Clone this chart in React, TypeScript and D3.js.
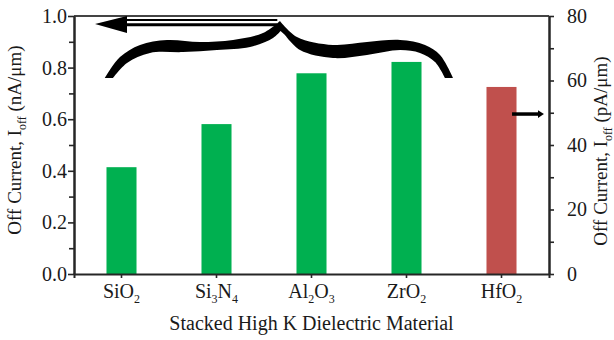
import React, { useRef, useEffect } from "react";
import * as d3 from "d3";

// categories, with label pieces alternating normal / subscript text
const materials = ["SiO2", "Si3N4", "Al2O3", "ZrO2", "HfO2"];
const materialLabels = [
  ["SiO", "2"],
  ["Si", "3", "N", "4"],
  ["Al", "2", "O", "3"],
  ["ZrO", "2"],
  ["HfO", "2"],
];

// off current read on the left axis (nA/um); HfO2 is read on the right axis (pA/um)
const offCurrentNA = [0.414, 0.581, 0.778, 0.822, null];
const offCurrentPA = [null, null, null, null, 58.0];

const leftTicks = [0, 0.2, 0.4, 0.6, 0.8, 1.0];
const leftMinor = [0.1, 0.3, 0.5, 0.7, 0.9];
const rightTicks = [0, 20, 40, 60, 80];
const rightMinor = [10, 30, 50, 70];

const FONT = "'Liberation Serif', 'Times New Roman', serif";
const GREEN = "#00b050";
const RED = "#c0504d";
const INK = "#262626";

function App() {
  const ref = useRef<SVGSVGElement>(null);

  useEffect(() => {
    document.body.style.margin = "0";
    const width = 614;
    const height = 340;
    const margin = { top: 16, right: 65, bottom: 66, left: 74 };
    const innerWidth = width - margin.left - margin.right;
    const innerHeight = height - margin.top - margin.bottom;

    const svg = d3.select(ref.current);
    svg.selectAll("*").remove();
    const g = svg
      .append("g")
      .attr("transform", `translate(${margin.left},${margin.top})`);

    const x = d3
      .scaleBand()
      .domain(materials)
      .range([0, innerWidth])
      .paddingInner(0.684)
      .paddingOuter(0.342);
    // continuous category position, for annotations
    const xi = d3
      .scaleLinear()
      .domain([-0.5, materials.length - 0.5])
      .range([0, innerWidth]);
    const yL = d3.scaleLinear().domain([0, 1]).range([innerHeight, 0]);
    const yR = d3.scaleLinear().domain([0, 80]).range([innerHeight, 0]);

    // bars
    g.selectAll("rect.bar")
      .data(materials)
      .join("rect")
      .attr("class", "bar")
      .attr("x", (d) => x(d)!)
      .attr("width", x.bandwidth())
      .attr("y", (d, i) =>
        offCurrentNA[i] != null ? yL(offCurrentNA[i]!) : yR(offCurrentPA[i]!)
      )
      .attr("height", (d, i) =>
        offCurrentNA[i] != null
          ? innerHeight - yL(offCurrentNA[i]!)
          : innerHeight - yR(offCurrentPA[i]!)
      )
      .attr("fill", (d, i) => (offCurrentNA[i] != null ? GREEN : RED));

    const styleAxis = (sel: any) => {
      sel.selectAll("path.domain").attr("stroke", INK).attr("stroke-width", 2);
      sel.selectAll(".tick line").attr("stroke", INK).attr("stroke-width", 1.6);
      sel
        .selectAll(".tick text")
        .attr("fill", "#1a1a1a")
        .style("font-family", FONT)
        .style("font-size", "20px");
    };

    // top frame line
    g.append("line")
      .attr("x1", 0)
      .attr("x2", innerWidth)
      .attr("y1", 0)
      .attr("y2", 0)
      .attr("stroke", "#444")
      .attr("stroke-width", 2);

    // left axis
    g.append("g")
      .call(d3.axisLeft(yL).tickValues(leftMinor).tickSize(5).tickSizeOuter(0).tickFormat(() => ""))
      .call(styleAxis);
    g.append("g")
      .call(
        d3
          .axisLeft(yL)
          .tickValues(leftTicks)
          .tickSize(6)
          .tickSizeOuter(0)
          .tickPadding(1)
          .tickFormat(d3.format(".1f") as any)
      )
      .call(styleAxis);

    // right axis
    const right = g.append("g").attr("transform", `translate(${innerWidth},0)`);
    right
      .append("g")
      .call(d3.axisRight(yR).tickValues(rightMinor).tickSize(5).tickSizeOuter(0).tickFormat(() => ""))
      .call(styleAxis);
    right
      .append("g")
      .call(
        d3
          .axisRight(yR)
          .tickValues(rightTicks)
          .tickSize(5)
          .tickSizeOuter(0)
          .tickPadding(13)
          .tickFormat(d3.format("d") as any)
      )
      .call(styleAxis);

    // bottom axis
    const bottom = g
      .append("g")
      .attr("transform", `translate(0,${innerHeight})`)
      .call(d3.axisBottom(x).tickSize(4).tickSizeOuter(4).tickFormat(() => ""))
      .call(styleAxis);

    bottom
      .selectAll("text.cat")
      .data(materials)
      .join("text")
      .attr("class", "cat")
      .attr("x", (d) => x(d)! + x.bandwidth() / 2)
      .attr("y", 24)
      .attr("text-anchor", "middle")
      .attr("fill", "#1a1a1a")
      .style("font-family", FONT)
      .style("font-size", "20px")
      .each(function (d, i) {
        const t = d3.select(this);
        materialLabels[i].forEach((part, j) => {
          const sub = j % 2 === 1;
          t.append("tspan")
            .attr("dy", sub ? 5 : j === 0 ? 0 : -5)
            .style("font-size", sub ? "12px" : "20px")
            .text(part);
        });
      });

    // axis titles
    svg
      .append("text")
      .attr("x", margin.left + innerWidth / 2)
      .attr("y", 330)
      .attr("text-anchor", "middle")
      .attr("fill", "#1a1a1a")
      .style("font-family", FONT)
      .style("font-size", "20px")
      .text("Stacked High K Dielectric Material");

    const yTitle = (cx: number, cy: number, unit: string) => {
      const t = svg
        .append("text")
        .attr("transform", `translate(${cx},${cy}) rotate(-90)`)
        .attr("text-anchor", "middle")
        .attr("fill", "#1a1a1a")
        .style("font-family", FONT)
        .style("font-size", "19px");
      t.append("tspan").text("Off Current, I");
      t.append("tspan").attr("dy", 5).style("font-size", "12px").text("off");
      t.append("tspan").attr("dy", -5).text(` (${unit})`);
    };
    yTitle(21, 140, "nA/\u03bcm");
    yTitle(607, 151, "pA/\u03bcm");

    // left-pointing arrow (green bars belong to the left axis)
    const head = d3.line<[number, number]>().x((d) => xi(d[0])).y((d) => yL(d[1]));
    g.append("path")
      .attr("d", head([[-0.279, 0.969], [0.058, 1.0], [0.058, 0.934]])! + "Z")
      .attr("fill", "#000");
    g.append("line")
      .attr("x1", xi(0.05))
      .attr("x2", xi(1.64))
      .attr("y1", yL(0.9845))
      .attr("y2", yL(0.9845))
      .attr("stroke", "#000")
      .attr("stroke-width", 2);
    g.append("line")
      .attr("x1", xi(0.05))
      .attr("x2", xi(1.64))
      .attr("y1", yL(0.9663))
      .attr("y2", yL(0.9663))
      .attr("stroke", "#000")
      .attr("stroke-width", 3);

    // curly brace over the green bars
    const seg = d3
      .line<[number, number]>()
      .x((d) => xi(d[0]))
      .y((d) => yL(d[1]))
      .curve(d3.curveCatmullRom.alpha(0.5));
    const leftUpper: [number, number][] = [
      [-0.175, 0.76], [-0.016, 0.841], [0.195, 0.888], [0.479, 0.907],
      [0.826, 0.899], [1.174, 0.907], [1.489, 0.934], [1.668, 0.981],
    ];
    const rightUpper: [number, number][] = [
      [1.668, 0.981], [1.847, 0.919], [2.226, 0.888], [2.584, 0.899],
      [2.932, 0.907], [3.195, 0.888], [3.353, 0.849], [3.49, 0.76],
    ];
    const rightLower: [number, number][] = [
      [3.405, 0.76], [3.3, 0.822], [3.142, 0.857], [2.932, 0.868],
      [2.584, 0.849], [2.226, 0.837], [1.879, 0.868], [1.721, 0.926],
    ];
    const leftLower: [number, number][] = [
      [1.674, 0.942], [1.595, 0.915], [1.353, 0.88], [1.005, 0.868],
      [0.647, 0.86], [0.3, 0.857], [0.058, 0.818], [-0.089, 0.76],
    ];
    const bracePath =
      seg(leftUpper)! +
      seg(rightUpper)!.replace(/^M/, "L") +
      seg(rightLower)!.replace(/^M/, "L") +
      seg(leftLower)!.replace(/^M/, "L") +
      "Z";
    g.append("path").attr("d", bracePath).attr("fill", "#000");

    // right-pointing arrow (HfO2 belongs to the right axis)
    const headR = d3.line<[number, number]>().x((d) => xi(d[0])).y((d) => yR(d[1]));
    g.append("line")
      .attr("x1", xi(4.111))
      .attr("x2", xi(4.4))
      .attr("y1", yR(49.6))
      .attr("y2", yR(49.6))
      .attr("stroke", "#000")
      .attr("stroke-width", 3.5);
    g.append("path")
      .attr("d", headR([[4.447, 49.6], [4.384, 50.8], [4.384, 48.4]])! + "Z")
      .attr("fill", "#000");
  }, []);

  return <svg ref={ref} width={614} height={340} style={{ display: "block" }}></svg>;
}

export default App;
